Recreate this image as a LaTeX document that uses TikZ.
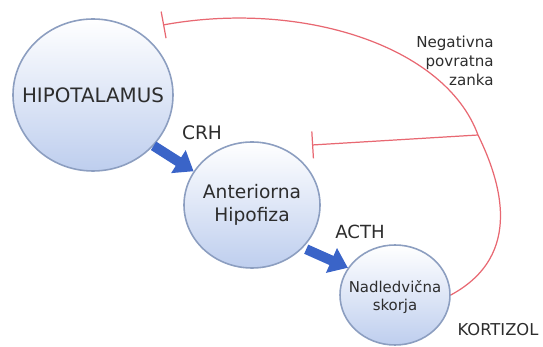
\documentclass[tikz,border=0pt]{standalone}
\usepackage{fontspec}
\setmainfont{DejaVu Sans}
\usetikzlibrary{arrows.meta, shapes.geometric}

\definecolor{glandedge}{RGB}{140,158,192}
\definecolor{glandlo}{RGB}{190,206,238}
\definecolor{hormblue}{RGB}{58,100,200}
\definecolor{fbred}{RGB}{232,104,114}
\definecolor{txt}{RGB}{45,45,45}

\begin{document}
\begin{tikzpicture}[
 gland/.style={ellipse, draw=glandedge, line width=0.9pt, top color=white, bottom color=glandlo, inner sep=0pt},
 hormone/.style={-{Triangle[length=3.6mm, width=5.2mm]}, line width=2mm, draw=hormblue},
 inhib/.style={-{Bar[width=5.4mm]}, draw=fbred, line width=0.7pt},
 lbl/.style={text=txt, inner sep=0pt, align=center}]
\useasboundingbox (0,0) rectangle (10.86,-6.94);
\node[gland, minimum width=3.2cm, minimum height=3.04cm, label={[lbl, font=\fontsize{11.3}{13}\selectfont]center:HIPOTALAMUS}] (hypo) at (1.86,-1.9) {};
\node[gland, minimum width=2.72cm, minimum height=2.52cm, label={[lbl, font=\fontsize{10.6}{13}\selectfont]center:Anteriorna\\ Hipofiza}] (ant) at (5.04,-4.1) {};
\node[gland, minimum width=2.2cm, minimum height=2.0cm, label={[lbl, font=\fontsize{8.5}{10.2}\selectfont, yshift=-1pt]center:Nadledvična\\ skorja}] (nad) at (7.9,-5.9) {};
\node[lbl, font=\fontsize{10.6}{13}\selectfont] (crh) at (4.04,-2.66) {CRH};
\node[lbl, font=\fontsize{10.3}{13}\selectfont] (acth) at (7.2,-4.64) {ACTH};
\node[lbl, font=\fontsize{9.3}{11}\selectfont] (kort) at (9.96,-6.6) {KORTIZOL};
\node[lbl, anchor=east, align=right, font=\fontsize{8.6}{10.8}\selectfont] (loopname) at (9.88,-1.22) {Negativna\\ povratna\\ zanka};
% feedback
\coordinate (loop) at (9.56,-2.7);
\coordinate (hypoStop) at (3.26,-0.5);
\coordinate (antStop) at (6.24,-2.9);
\draw[hormone] (hypo.-40) -- (ant.150);
\draw[hormone, shorten <=2pt] (ant.-40) -- (nad.150);
\draw[inhib] (nad.east) .. controls (10.5,-5.1) and (10.0,-3.6) .. (loop) .. controls (8.9,-0.9) and (6.0,0.0) .. (hypoStop);
\draw[inhib] (loop) -- (antStop);
\end{tikzpicture}
\end{document}
